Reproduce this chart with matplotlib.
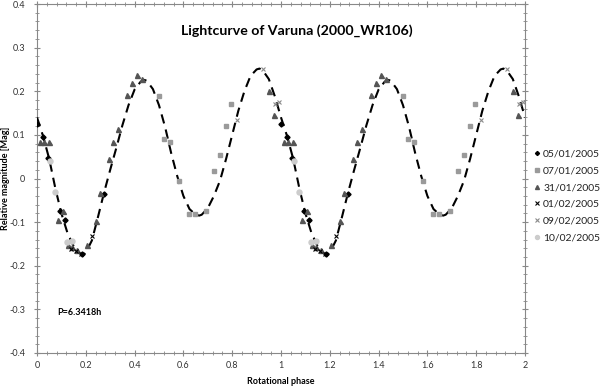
import numpy as np
import matplotlib
matplotlib.use("Agg")
import matplotlib.pyplot as plt
from matplotlib.ticker import MultipleLocator

plt.rcParams['font.family'] = ['Lato', 'DejaVu Sans']

# ---- data (phase in [0,1), plotted twice: phase and phase+1) ----
d0501_phase = [0.001, 0.026, 0.046, 0.094, 0.115, 0.183, 0.275]
d0501_mag   = [0.125, 0.096, 0.046, -0.074, -0.095, -0.173, -0.035]

d0701_phase = [0.501, 0.522, 0.545, 0.582, 0.624, 0.648, 0.691, 0.727, 0.750, 0.773, 0.795]
d0701_mag   = [0.188, 0.091, 0.084, -0.006, -0.081, -0.081, -0.075, 0.018, 0.054, 0.120, 0.171]

d3101_phase = [0.014, 0.030, 0.048, 0.087, 0.108, 0.128, 0.142, 0.162, 0.204, 0.240, 0.258,
               0.295, 0.313, 0.333, 0.370, 0.390, 0.408, 0.429, 0.952, 0.971]
d3101_mag   = [0.084, 0.084, 0.084, -0.095, -0.074, -0.153, -0.156, -0.163, -0.153, -0.097, -0.033,
               0.044, 0.084, 0.113, 0.192, 0.218, 0.238, 0.227, 0.201, 0.146]

d0102_phase = [0.138, 0.160, 0.180, 0.227]
d0102_mag   = [-0.162, -0.166, -0.172, -0.131]

d0902_phase = [0.818, 0.928, 0.975, 0.992]
d0902_mag   = [0.134, 0.251, 0.171, 0.175]

d1002_phase = [0.053, 0.075, 0.122, 0.143]
d1002_mag   = [0.041, -0.030, -0.145, -0.143]

# fitted curve
curve_phase = [0.000, 0.025, 0.050, 0.075, 0.100, 0.125, 0.150, 0.175, 0.190, 0.200, 0.225,
               0.250, 0.275, 0.300, 0.325, 0.350, 0.375, 0.400, 0.425, 0.440, 0.450, 0.475,
               0.500, 0.525, 0.550, 0.575, 0.600, 0.625, 0.650, 0.665, 0.675, 0.700, 0.725,
               0.750, 0.775, 0.800, 0.825, 0.850, 0.875, 0.900, 0.912, 0.925, 0.950, 0.975]
curve_mag   = [0.140, 0.097, 0.045, -0.022, -0.080, -0.125, -0.155, -0.171, -0.175, -0.170, -0.142,
               -0.088, -0.032, 0.020, 0.070, 0.122, 0.168, 0.204, 0.222, 0.226, 0.224, 0.205,
               0.168, 0.118, 0.058, 0.005, -0.040, -0.070, -0.083, -0.085, -0.083, -0.068, -0.040,
               -0.005, 0.045, 0.100, 0.155, 0.200, 0.235, 0.250, 0.252, 0.248, 0.228, 0.188]

labels = ['05/01/2005', '07/01/2005', '31/01/2005', '01/02/2005', '09/02/2005', '10/02/2005']

fig = plt.figure(figsize=(6.0, 3.88), dpi=100)
ax = fig.add_axes([37/600, 35/388, 488/600, 349/388])

def twice(p):
    p = np.asarray(p)
    return np.concatenate([p, p + 1])

def twice_y(m):
    m = np.asarray(m)
    return np.concatenate([m, m])

cx = np.concatenate([curve_phase, np.asarray(curve_phase) + 1, [2.0]])
cy = np.concatenate([curve_mag, curve_mag, [curve_mag[0]]])
ax.plot(cx, cy, color='black', lw=1.5, ls=(0, (4.5, 3)), zorder=3)

styles = [
    dict(marker='D', color='black', ms=2.6, mec='black'),
    dict(marker='s', color='#9a9a9a', ms=3.3, mec='#9a9a9a'),
    dict(marker='^', color='#555555', ms=3.6, mec='#555555'),
    dict(marker='x', color='black', ms=3.3, mew=0.8),
    dict(marker='x', color='#8a8a8a', ms=3.3, mew=0.8),
    dict(marker='o', color='#cccccc', ms=3.6, mec='#cccccc'),
]
series = [(d0501_phase, d0501_mag), (d0701_phase, d0701_mag), (d3101_phase, d3101_mag),
          (d0102_phase, d0102_mag), (d0902_phase, d0902_mag), (d1002_phase, d1002_mag)]
for (p, m), st, lab in zip(series, styles, labels):
    ax.plot(twice(p), twice_y(m), ls='none', label=lab, zorder=4, **st)

ax.set_xlim(0, 2)
ax.set_ylim(-0.4, 0.4)
ax.xaxis.set_major_locator(MultipleLocator(0.2))
ax.xaxis.set_minor_locator(MultipleLocator(0.04))
ax.yaxis.set_major_locator(MultipleLocator(0.1))
ax.yaxis.set_minor_locator(MultipleLocator(0.02))
ax.tick_params(which='both', direction='inout', top=True, right=True,
               labeltop=False, labelright=False, color='#888888')
ax.tick_params(which='major', length=5, width=0.8, labelsize=6.5, labelcolor='#333333')
ax.tick_params(axis='x', which='major', pad=3.5)
ax.tick_params(axis='y', which='major', pad=6)
ax.tick_params(which='minor', length=3, width=0.6)
for s in ax.spines.values():
    s.set_color('#888888')
    s.set_linewidth(0.8)

def fmt(v):
    if abs(v) < 1e-9:
        return '0'
    s = ('%.1f' % v)
    if s.endswith('.0'):
        s = s[:-2]
    return s
ax.set_xticks(np.round(np.arange(0, 2.01, 0.2), 1))
ax.set_xticklabels([fmt(v) for v in np.arange(0, 2.01, 0.2)])
ax.set_yticks(np.round(np.arange(-0.4, 0.41, 0.1), 1))
ax.set_yticklabels([fmt(v) for v in np.arange(-0.4, 0.41, 0.1)])

ax.set_xlabel('Rotational phase', fontsize=6.5, fontweight='bold')
ax.set_ylabel('Relative magnitude [Mag]', fontsize=6.5, fontweight='bold')
ax.xaxis.set_label_coords(0.5, -29/349)
ax.yaxis.set_label_coords(-31/488, 0.5)
ax.xaxis.label.set_va('center')
ax.yaxis.label.set_va('center')

ax.text(0.533, 0.923, 'Lightcurve of Varuna (2000_WR106)', transform=ax.transAxes,
        ha='center', va='center', fontsize=10.2, fontweight='bold')
ax.text(0.041, 0.115, 'P=6.3418h', transform=ax.transAxes, ha='left', va='center',
        fontsize=6.5, fontweight='bold')

leg = ax.legend(loc='center left', bbox_to_anchor=(1.005, 0.45), frameon=False,
                fontsize=7.5, handlelength=0.6, handletextpad=0.3, labelspacing=0.72,
                borderaxespad=0.2, labelcolor='#222222', markerscale=0.8)

fig.savefig('out.png', dpi=100)
